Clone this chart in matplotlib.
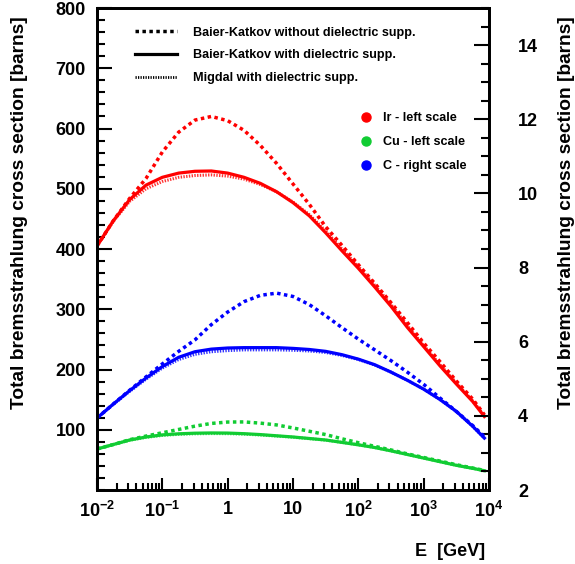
import numpy as np
import matplotlib.pyplot as plt
from matplotlib.lines import Line2D
from matplotlib.ticker import FixedLocator, FixedFormatter, MultipleLocator, NullFormatter

plt.rcParams['font.family'] = ['Liberation Sans', 'DejaVu Sans']
plt.rcParams['font.weight'] = 'bold'
plt.rcParams['mathtext.fontset'] = 'custom'
plt.rcParams['mathtext.rm'] = 'Liberation Sans:bold'
plt.rcParams['mathtext.it'] = 'Liberation Sans:bold'
plt.rcParams['mathtext.bf'] = 'Liberation Sans:bold'
plt.rcParams['mathtext.default'] = 'rm'

# photon energy grid [GeV]
E = [0.01, 0.0178, 0.0316, 0.0562, 0.1, 0.178, 0.316, 0.562, 1, 1.78, 3.16,
     5.62, 10, 17.8, 31.6, 56.2, 100, 178, 316, 562, 1000, 1780, 3160, 5620,
     8500]

# Ir (left scale, barns)
ir_bk_nodiel = [405, 447, 484, 517, 561, 594, 614, 620, 613, 597, 572, 542,
                508, 474, 437, 406, 374, 343, 311, 278, 244, 213, 181, 151,
                125]
ir_bk_diel = [405, 447, 482, 506, 519, 526, 529, 529.5, 526, 519, 509, 495,
              477, 455, 427, 397, 368, 337, 305, 270, 238, 206, 176, 147, 122]
ir_migdal = [405, 446, 479, 500, 512, 519, 522, 523, 521, 516, 507, 495,
             478, 457, 430, 400, 371, 340, 308, 273, 240, 208, 178, 148, 123]

# Cu (left scale, barns)
cu_bk_nodiel = [68, 75.5, 83.5, 89.5, 95, 100.5, 106, 110.5, 112.8, 113, 111,
                108, 103, 97.5, 92, 85, 78.5, 72.5, 66.5, 60, 54, 48, 42,
                36.5, 32.5]
cu_bk_diel = [68, 75.5, 83, 88, 91.5, 93.3, 94.3, 94.7, 94.5, 93.5, 92, 90,
              88, 85.5, 83, 79, 75, 70.5, 65, 59, 53, 47, 41, 36, 32]
cu_migdal = [68, 75.5, 82.5, 87.3, 90.6, 92.4, 93.3, 93.7, 93.5, 92.7, 91.3,
             89.5, 87.6, 85.2, 82.8, 79, 75, 70.5, 65, 59, 53, 47, 41, 36, 32]

# C (right scale, barns)
c_bk_nodiel = [3.94, 4.32, 4.69, 5.05, 5.40, 5.74, 6.05, 6.46, 6.80, 7.08,
               7.25, 7.31, 7.22, 7.00, 6.70, 6.38, 6.07, 5.78, 5.49, 5.18,
               4.85, 4.48, 4.12, 3.74, 3.44]
c_bk_diel = [3.94, 4.32, 4.68, 5.02, 5.33, 5.58, 5.73, 5.80, 5.83, 5.84,
             5.84, 5.84, 5.82, 5.79, 5.74, 5.65, 5.53, 5.38, 5.18, 4.96,
             4.72, 4.44, 4.12, 3.72, 3.40]
c_migdal = [3.94, 4.31, 4.66, 4.99, 5.29, 5.52, 5.66, 5.73, 5.76, 5.78,
            5.78, 5.78, 5.77, 5.75, 5.71, 5.63, 5.52, 5.37, 5.18, 4.96,
            4.72, 4.44, 4.12, 3.72, 3.40]

xticks = [1e-2, 1e-1, 1, 10, 1e2, 1e3, 1e4]
xlabels = ['$10^{-2}$', '$10^{-1}$', '1', '10', '$10^{2}$', '$10^{3}$', '$10^{4}$']

red, green, blue = '#ff0000', '#11cc33', '#0000ff'
dotted = (0, (1, 1))
fine = (0, (0.45, 0.45))

fig = plt.figure(figsize=(5.75, 5.64), dpi=100)
ax = fig.add_axes([0.1687, 0.1312, 0.6817, 0.8546])
ax2 = ax.twinx()

for vals, col in [(ir_bk_nodiel, red), (cu_bk_nodiel, green)]:
    ax.plot(E, vals, color=col, lw=2.5, ls=dotted)
for vals, col in [(ir_migdal, red), (cu_migdal, green)]:
    ax.plot(E, vals, color=col, lw=2.2, ls=fine, alpha=0.8)
for vals, col in [(ir_bk_diel, red), (cu_bk_diel, green)]:
    ax.plot(E, vals, color=col, lw=2.3)

ax2.plot(E, c_bk_nodiel, color=blue, lw=2.5, ls=dotted)
ax2.plot(E, c_migdal, color=blue, lw=2.2, ls=fine, alpha=0.8)
ax2.plot(E, c_bk_diel, color=blue, lw=2.3)

ax.set_xscale('log')
ax.set_xlim(1e-2, 1e4)
ax.set_ylim(0, 800)
ax2.set_ylim(2, 15)

ax.xaxis.set_major_locator(FixedLocator(xticks))
ax.xaxis.set_major_formatter(FixedFormatter(xlabels))
ax.xaxis.set_minor_formatter(NullFormatter())
ax.yaxis.set_minor_locator(MultipleLocator(20))
ax2.yaxis.set_minor_locator(MultipleLocator(0.5))
ax.set_yticks([100, 200, 300, 400, 500, 600, 700, 800])
ax2.set_yticks([2, 4, 6, 8, 10, 12, 14])

ax.tick_params(axis='both', which='both', direction='in', width=1.5,
               labelsize=13, top=False, right=False)
ax.tick_params(axis='y', which='major', length=11, pad=8)
ax.tick_params(axis='y', which='minor', length=6)
ax.tick_params(axis='x', which='major', length=9, pad=8)
ax.tick_params(axis='x', which='minor', length=5)
ax2.tick_params(axis='y', which='both', direction='in', width=1.5,
                labelsize=13, pad=21)
ax2.tick_params(axis='y', which='major', length=11)
ax2.tick_params(axis='y', which='minor', length=6)

for sp in ax.spines.values():
    sp.set_linewidth(2)
for sp in ax2.spines.values():
    sp.set_linewidth(2)

ax.set_ylabel('Total bremsstrahlung cross section [barns]', fontsize=13.8,
              fontweight='bold')
ax.yaxis.set_label_coords(-0.176, 0.575)
ax2.set_ylabel('Total bremsstrahlung cross section [barns]', fontsize=13.8,
               fontweight='bold')
ax2.yaxis.set_label_coords(1.177, 0.575)
ax.set_xlabel('E  [GeV]', fontsize=13, fontweight='bold')
ax.xaxis.set_label_coords(0.90, -0.11)

style_handles = [
    Line2D([], [], color='black', lw=2.5, ls=dotted),
    Line2D([], [], color='black', lw=2.3),
    Line2D([], [], color='black', lw=2.0, ls=fine),
]
style_labels = ['Baier-Katkov without dielectric supp.',
                'Baier-Katkov with dielectric supp.',
                'Migdal with dielectric supp.']
leg1 = ax.legend(style_handles, style_labels, loc='upper left',
                 bbox_to_anchor=(0.068, 0.985), frameon=False,
                 prop={'size': 9.1, 'weight': 'bold'}, handlelength=3.3,
                 handletextpad=1.3, labelspacing=0.85)
ax.add_artist(leg1)

mat_handles = [Line2D([], [], color=c, marker='o', ls='none', markersize=6.5)
               for c in (red, green, blue)]
mat_labels = ['Ir - left scale', 'Cu - left scale', 'C - right scale']
ax.legend(mat_handles, mat_labels, loc='upper left',
          bbox_to_anchor=(0.64, 0.807), frameon=False,
          prop={'size': 9.1, 'weight': 'bold'}, handlelength=1.0,
          handletextpad=0.9, labelspacing=0.95)

fig.savefig('out.png', dpi=100)
